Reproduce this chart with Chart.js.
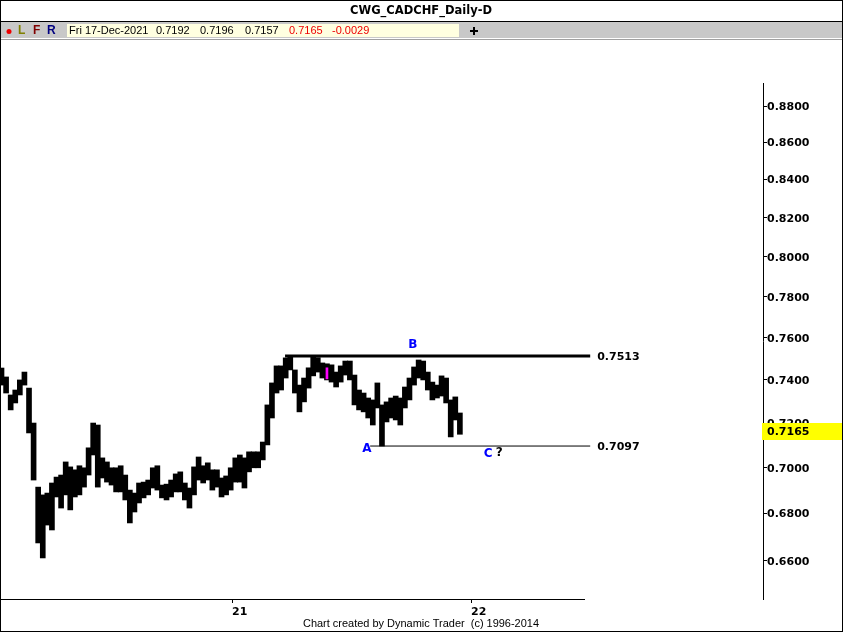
<!DOCTYPE html>
<html><head><meta charset="utf-8">
<script src="https://cdn.jsdelivr.net/npm/chart.js@4.4.1/dist/chart.umd.min.js"></script>
<style>html,body{margin:0;padding:0;background:#fff;overflow:hidden}#wrap{position:relative;width:843px;height:632px}</style>
</head><body><div id="wrap"><canvas id="c" width="843" height="632"></canvas></div>
<script>
// ---- data (weekly ranges of the daily CADCHF bars) ----
const firstWeekEnding = '2020-01-17';
const weeklyHigh = [
0.7456,0.7414,0.7330,0.7353,0.7400,0.7437,0.7362,0.7201,0.6915,0.6881,
0.6889,0.6933,0.6959,0.6968,0.7026,0.7004,0.6991,0.7009,0.7000,0.7089,
0.7201,0.7192,0.7044,0.7026,0.7000,0.7000,0.7009,0.6968,0.6902,0.6889,
0.6933,0.6937,0.6946,0.7000,0.7009,0.6924,0.6928,0.6946,0.6973,0.6982,
0.6933,0.6911,0.7004,0.7048,0.7009,0.7022,0.6991,0.6991,0.6955,0.6964,
0.7000,0.7044,0.7057,0.7044,0.7071,0.7071,0.7071,0.7115,0.7284,0.7386,
0.7466,0.7466,0.7504,0.7513,0.7447,0.7376,0.7409,0.7457,0.7508,0.7505,
0.7480,0.7476,0.7471,0.7437,0.7466,0.7489,0.7489,0.7423,0.7353,0.7339,
0.7316,0.7307,0.7386,0.7284,0.7298,0.7316,0.7325,0.7316,0.7367,0.7409,
0.7461,0.7494,0.7489,0.7437,0.7390,0.7376,0.7419,0.7409,0.7307,0.7321,
0.7247];
const weeklyLow = [
0.7376,0.7339,0.7261,0.7293,0.7330,0.7376,0.7156,0.6946,0.6675,0.6612,
0.6751,0.6730,0.6872,0.6824,0.6881,0.6816,0.6872,0.6881,0.6915,0.6968,
0.7057,0.6915,0.6955,0.6937,0.6924,0.6894,0.6894,0.6859,0.6760,0.6807,
0.6846,0.6868,0.6881,0.6911,0.6902,0.6868,0.6859,0.6872,0.6894,0.6894,
0.6859,0.6824,0.6881,0.6946,0.6933,0.6946,0.6902,0.6915,0.6872,0.6881,
0.6902,0.6937,0.6937,0.6911,0.6982,0.7000,0.7000,0.7035,0.7102,0.7224,
0.7339,0.7353,0.7409,0.7447,0.7339,0.7252,0.7298,0.7362,0.7419,0.7437,
0.7409,0.7400,0.7390,0.7367,0.7390,0.7423,0.7400,0.7284,0.7261,0.7252,
0.7224,0.7192,0.7270,0.7097,0.7206,0.7224,0.7215,0.7192,0.7270,0.7307,
0.7376,0.7409,0.7400,0.7353,0.7307,0.7316,0.7325,0.7293,0.7138,0.7215,
0.7150];
const markedBarDate = '2021-05-26';
const markedBarRange = [0.7405, 0.7457];

const lastBar = {date:'Fri 17-Dec-2021', open:0.7192, high:0.7196, low:0.7157, close:0.7165, change:-0.0029};

const levelValues = [0.7513, 0.7097];
const levelStartDates = ['2021-03-23', '2021-07-31'];
const levelWidths = [3, 1];
const levelEndDate = '2022-07-02';
const axisEndDate = '2022-06-24';

const waveLabels = ['B', 'A', 'C', '?'];
const waveLabelDates = ['2021-10-04', '2021-07-26', '2022-01-27', '2022-02-13'];
const waveLabelPrices = [0.7565, 0.7084, 0.7062, 0.7066];
const waveLabelColors = ['#0000ff', '#0000ff', '#0000ff', '#000000'];

const yearTickDates = ['2021-01-01', '2022-01-01'];
const yearTickLabels = ['21', '22'];
const priceTicks = [0.66,0.68,0.70,0.72,0.74,0.76,0.78,0.80,0.82,0.84,0.86,0.88];

// ---- helpers ----
const ORIGIN = Date.UTC(2020,0,1);
function dayOf(s){ const p=s.split('-'); return (Date.UTC(+p[0], +p[1]-1, +p[2]) - ORIGIN)/86400000; }
const firstDay = dayOf(firstWeekEnding);
const weekMid = weeklyHigh.map((_, i) => firstDay + 7*i - 2);
const xMin = 11.7, xMax = 1176.9;
const yMin = 0.64425, yMax = 0.8929;

const barData = weekMid.map((d,i)=>({x:d, y:[weeklyLow[i], weeklyHigh[i]]}));
const levelSets = levelValues.map((v,i)=>({
  type:'line', order:0,
  data:[{x:dayOf(levelStartDates[i]), y:v},{x:dayOf(levelEndDate), y:v}],
  borderColor:'#000', borderWidth:levelWidths[i], pointRadius:0, fill:false, tension:0
}));

const decor = {
  id:'decor',
  beforeDraw(chart){ const c=chart.ctx; c.save(); c.fillStyle='#fff'; c.fillRect(0,0,chart.width,chart.height); c.restore(); },
  afterDraw(chart){
    const c = chart.ctx, x = chart.scales.x, y = chart.scales.y, ca = chart.chartArea;
    c.save();
    c.fillStyle='#000';
    // x axis base line
    const xEnd = Math.round(x.getPixelForValue(dayOf(axisEndDate)));
    c.fillRect(0, ca.bottom, xEnd, 1);
    // level labels
    c.font='bold 11px "DejaVu Sans"'; c.textBaseline='middle'; c.textAlign='left';
    const lx = x.getPixelForValue(dayOf(levelEndDate)) + 7;
    levelValues.forEach(v=>{ c.fillText(v.toFixed(4), lx, y.getPixelForValue(v)+1); });
    // wave labels
    c.font='bold 12px "DejaVu Sans"'; c.textAlign='center';
    waveLabels.forEach((t,i)=>{
      c.fillStyle=waveLabelColors[i];
      c.fillText(t, x.getPixelForValue(dayOf(waveLabelDates[i])), y.getPixelForValue(waveLabelPrices[i]));
    });
    // current price box
    c.font='bold 11px "DejaVu Sans"';
    const yc = y.getPixelForValue(lastBar.close);
    c.fillStyle='#ffff00'; c.fillRect(762, Math.round(yc)-8, 80, 17);
    c.fillStyle='#000'; c.textAlign='left'; c.fillText(lastBar.close.toFixed(4), 767, yc+1);
    // header
    c.fillStyle='#fff'; c.fillRect(0,0,843,ca.top-40);
    c.fillStyle='#000';
    c.font='bold 12px "DejaVu Sans"'; c.textAlign='center'; c.textBaseline='middle';
    c.fillText('CWG_CADCHF_Daily-D', 421, 11, 142);
    c.fillRect(0,21,843,1);
    c.fillStyle='#c8c8c8'; c.fillRect(1,22,841,16);
    c.fillStyle='#a0a0a0'; c.fillRect(0,39,843,1);
    c.fillStyle='#ffffe0'; c.fillRect(67,24,392,13);
    c.fillStyle='#ee0000'; c.beginPath(); c.arc(9,31.5,2.5,0,Math.PI*2); c.fill();
    c.font='bold 12px "Liberation Sans"'; c.textAlign='left';
    c.fillStyle='#808000'; c.fillText('L',18,31);
    c.fillStyle='#800000'; c.fillText('F',33,31);
    c.fillStyle='#000080'; c.fillText('R',47,31);
    c.font='11px "Liberation Sans"'; c.fillStyle='#000';
    c.fillText(lastBar.date, 69, 31);
    c.fillText(lastBar.open.toFixed(4), 156, 31);
    c.fillText(lastBar.high.toFixed(4), 200, 31);
    c.fillText(lastBar.low.toFixed(4), 245, 31);
    c.fillStyle='#ee0000';
    c.fillText(lastBar.close.toFixed(4), 289, 31);
    c.fillText(lastBar.change.toFixed(4), 332, 31);
    c.fillStyle='#000';
    c.fillRect(470,30,8,2); c.fillRect(473,27,2,8);
    // footer
    c.font='11px "Liberation Sans"'; c.textAlign='center';
    c.fillText('Chart created by Dynamic Trader  (c) 1996-2014', 421, 624, 236);
    // frame
    c.fillRect(0,0,843,1); c.fillRect(0,0,1,632); c.fillRect(842,0,1,632); c.fillRect(0,631,843,1);
    c.restore();
  }
};

new Chart(document.getElementById('c'), {
  type:'bar',
  data:{ datasets:[
    {type:'bar', order:1, data:[{x:dayOf(markedBarDate), y:markedBarRange}], backgroundColor:'#ff00ff', barThickness:2, grouped:false, borderWidth:0},
    {type:'bar', order:2, data:barData, backgroundColor:'#000', barThickness:5, grouped:false, borderWidth:0},
    ...levelSets
  ]},
  options:{
    responsive:false, animation:false, events:[],
    layout:{padding:{top:83,left:0,right:0,bottom:0}},
    plugins:{legend:{display:false}, tooltip:{enabled:false}, title:{display:false}},
    scales:{
      x:{type:'linear', min:xMin, max:xMax, offset:false,
        afterBuildTicks:s=>{ s.ticks = yearTickDates.map(d=>({value:dayOf(d)})); },
        ticks:{callback:(v,i)=>yearTickLabels[i], autoSkip:false, maxRotation:0, align:'start', padding:3,
          color:'#000', font:{family:'DejaVu Sans', weight:'bold', size:11}},
        grid:{drawOnChartArea:false, tickLength:4, color:'#000', offset:false},
        border:{display:false},
        afterFit:s=>{ s.height = 33; }
      },
      y:{type:'logarithmic', position:'right', min:yMin, max:yMax,
        afterBuildTicks:s=>{ s.ticks = priceTicks.map(v=>({value:v})); },
        ticks:{callback:v=>Number(v).toFixed(4), autoSkip:false, padding:0, labelOffset:1, color:'#000',
          font:{family:'DejaVu Sans', weight:'bold', size:11}},
        grid:{drawOnChartArea:false, tickLength:4, color:'#000'},
        border:{display:true, color:'#000', width:1},
        afterFit:s=>{ s.width = 80; }
      }
    }
  },
  plugins:[decor]
});
</script></body></html>
